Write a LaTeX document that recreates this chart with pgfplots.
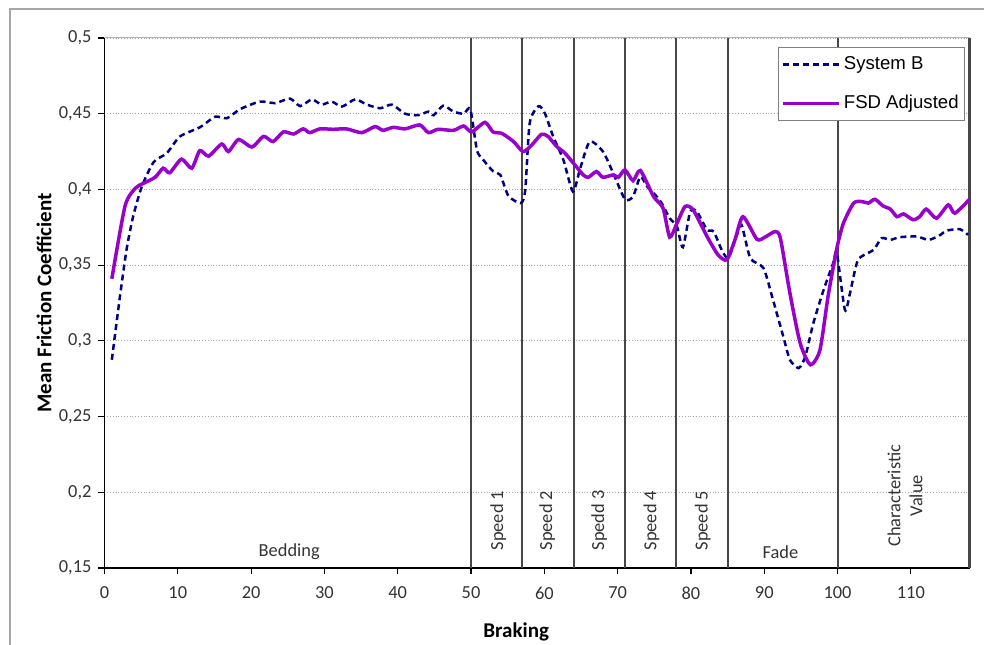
\documentclass[border=0pt]{standalone}
\usepackage{fontspec}
\usepackage{pgfplots}
\pgfplotsset{compat=1.18}
\setmainfont{Carlito}
\newfontfamily\legfont{Liberation Sans}

\definecolor{sysb}{RGB}{0,0,128}
\definecolor{fsd}{RGB}{153,0,204}

\newcommand\tickfont{\fontsize{9.2bp}{11bp}\selectfont}
\newcommand\labfont{\fontsize{10.5bp}{12bp}\selectfont\bfseries}

\begin{document}
\begin{tikzpicture}
\useasboundingbox (-52.25bp,-38.5bp) rectangle (439.75bp,284bp);
% chart area frame (cut off right and bottom)
\draw[gray!70, line width=0.8bp] (-47.25bp,-60bp) rectangle (460bp,279.5bp);
\begin{axis}[
    at={(0,0)}, anchor=south west,
    scale only axis, width=432.5bp, height=265bp,
    xmin=0, xmax=118, ymin=0.15, ymax=0.5,
    axis x line*=bottom, axis y line*=left,
    axis line style={black, line width=0.6bp},
    tick align=outside, major tick length=3bp,
    tick style={black, line width=0.6bp},
    xtick={0,10,...,110},
    ytick={0.15,0.2,0.25,0.3,0.35,0.4,0.45,0.5},
    /pgf/number format/assume math mode=true,
    yticklabel style={/pgf/number format/use comma},
    ticklabel style={font=\tickfont, text=black!80},
    xticklabel style={yshift=-3bp},
    ymajorgrids,
    major grid style={gray!70, densely dotted, line width=0.4bp},
    extra x ticks={50,57,64,71,78,85,100,118},
    extra x tick labels={},
    extra x tick style={xmajorgrids=true, major tick length=0pt,
        major grid style={solid, black!72, line width=1.05bp}},
    xlabel={Braking},
    ylabel={Mean Friction Coefficient},
    every axis x label/.style={at={(axis description cs:0.476,0)}, yshift=-32bp, anchor=center, font=\labfont},
    every axis y label/.style={at={(axis description cs:0,0.5)}, xshift=-30.25bp, rotate=90, anchor=center, font=\labfont},
    legend style={at={(axis description cs:0.7786,0.983)}, anchor=north west,
        draw=gray, fill=white, font=\legfont\fontsize{9.3bp}{10bp}\selectfont,
        inner xsep=1.5bp, inner ysep=3bp, row sep=8.5bp, nodes={inner sep=1.5bp}},
    legend cell align=left,
    legend image code/.code={\draw[#1] (0bp,0bp) -- (28bp,0bp);},
]
\addplot[sysb, line width=1.25bp, dash pattern=on 3bp off 2bp, smooth, tension=0.4] coordinates {
(1,0.2875) (2.1,0.329) (3,0.360) (3.9,0.382) (5.1,0.402) (6.7,0.418) (8.5,0.424)
(10.3,0.435) (13,0.441) (15.1,0.448) (16.7,0.447) (18.5,0.453) (21.2,0.458) (23.3,0.457)
(25.3,0.460) (26.7,0.455) (28.3,0.4595) (29.6,0.456) (31,0.458) (32.4,0.4547) (34.2,0.4595)
(35.8,0.456) (37.6,0.4536) (39.2,0.456) (41,0.450) (42.8,0.449) (44.2,0.4514) (44.9,0.449)
(46.2,0.4553) (47.6,0.4514) (49,0.450) (49.9,0.453) (50.8,0.426) (51.5,0.4206) (53,0.412)
(54,0.4096) (55.1,0.3957) (56.8,0.391) (57.4,0.3997) (58,0.4437) (59.2,0.455) (60.1,0.450)
(61.2,0.435) (62.6,0.4195) (63.9,0.3986) (64.9,0.414) (66.2,0.4316) (68,0.425) (69.4,0.4107)
(71,0.3935) (72.1,0.3953) (73.1,0.4085) (74,0.402) (75.2,0.396) (76,0.391) (77.1,0.381)
(78.1,0.3755) (78.9,0.3618) (79.9,0.3854) (80.8,0.3854) (82.2,0.3733) (83.1,0.3722)
(84.2,0.360) (85.1,0.3546) (86.2,0.3689) (86.9,0.3766) (88.1,0.3546) (89.9,0.348)
(91.2,0.327) (92.6,0.3028) (93.5,0.2875) (94.7,0.282) (95.6,0.2897) (96.7,0.3117)
(98.1,0.3337) (99.4,0.3513) (99.9,0.358) (101,0.3205) (101.7,0.3315) (102.8,0.3535)
(104.9,0.360) (106,0.3678) (107.2,0.3667) (108.5,0.3685) (110.8,0.3689) (112.4,0.3667)
(113.8,0.3693) (114.9,0.3728) (116.7,0.3737) (117.8,0.370)
};
\addlegendentry{System B}
\addplot[fsd, line width=1.75bp, smooth, tension=0.4] coordinates {
(1,0.341) (2.8,0.389) (4.2,0.4008) (5.3,0.404) (6.9,0.408) (8,0.414) (8.9,0.411)
(10.5,0.420) (11.9,0.414) (13,0.4256) (14.2,0.422) (16,0.430) (16.9,0.425) (18.3,0.433)
(20.1,0.428) (21.7,0.435) (23,0.4316) (24.4,0.438) (25.8,0.4366) (27.1,0.440) (28,0.4375)
(29.4,0.440) (31.2,0.4397) (33,0.440) (35.1,0.4375) (36.9,0.4415) (38,0.439) (39.4,0.441)
(41,0.440) (43,0.4426) (44.2,0.4375) (45.5,0.4397) (47.6,0.439) (49,0.4419) (50.1,0.438)
(51.9,0.4443) (53,0.438) (54.2,0.437) (55.8,0.4316) (57.1,0.425) (58.3,0.4294) (59.6,0.4364)
(60.5,0.435) (61.7,0.4283) (62.8,0.424) (64.2,0.416) (65.3,0.4096) (66,0.408) (67.1,0.4118)
(68,0.408) (69.4,0.4096) (70.1,0.408) (71,0.4129) (72.1,0.4058) (73.1,0.4125) (74.9,0.3953)
(76.2,0.3876) (77.1,0.3685) (78.1,0.3777) (79.2,0.3887) (80.3,0.3865) (82.2,0.3689)
(83.7,0.3568) (84.9,0.3535) (86,0.3667) (87.1,0.382) (89,0.3671) (90.1,0.3685) (91.5,0.3722)
(92.2,0.3678) (93.5,0.3315) (94.9,0.2985) (96.3,0.2842) (97.6,0.294) (98.7,0.3292)
(99.9,0.361) (100.8,0.3777) (102.2,0.391) (103.3,0.392) (104.2,0.391) (105.1,0.3935)
(106.2,0.3891) (107.2,0.387) (108.1,0.382) (109,0.3838) (110.3,0.380) (111.2,0.382)
(112.1,0.387) (113.5,0.381) (115.1,0.3898) (116,0.3843) (118,0.3935)
};
\addlegendentry{FSD Adjusted}
% plot area top border
\draw[gray!60, line width=0.5bp] (rel axis cs:0,1) -- (rel axis cs:1,1);
% phase labels
\begin{scope}[every node/.style={font=\tickfont, text=black!80, inner sep=0pt}]
\node at (axis cs:25.2,0.1605) {Bedding};
\node at (axis cs:92.2,0.1605) {Fade};
\node[rotate=90, anchor=west] at (axis cs:53.7,0.1614) {Speed 1};
\node[rotate=90, anchor=west] at (axis cs:60.4,0.1614) {Speed 2};
\node[rotate=90, anchor=west] at (axis cs:67.5,0.1614) {Spedd 3};
\node[rotate=90, anchor=west] at (axis cs:74.6,0.1614) {Speed 4};
\node[rotate=90, anchor=west] at (axis cs:81.6,0.1614) {Speed 5};
\node[rotate=90, align=center] at (axis cs:109.2,0.1977) {Characteristic\\Value};
\end{scope}
\end{axis}
\end{tikzpicture}
\end{document}
